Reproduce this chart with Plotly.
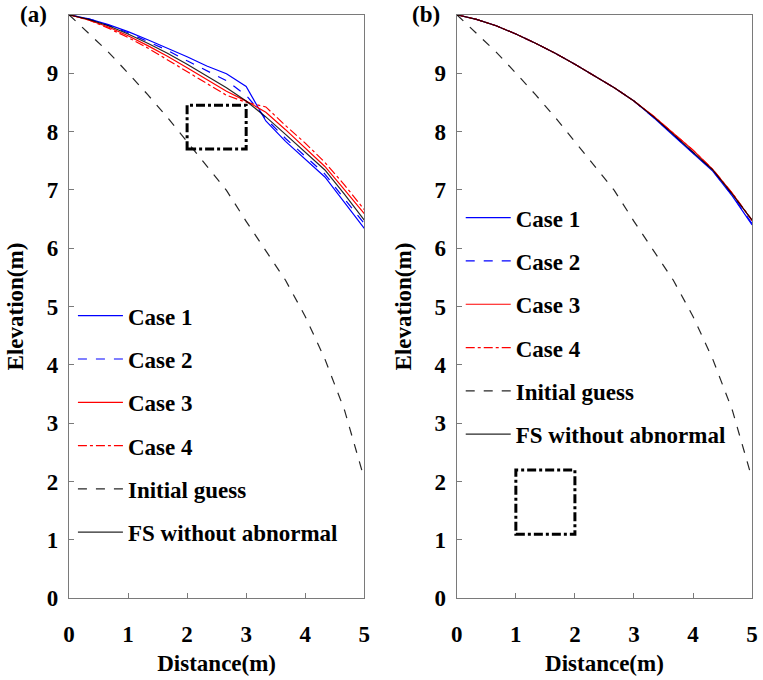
import plotly.graph_objects as go

# Nodes along the free surface (1/3 m spacing)
distance = [0, 1/3, 2/3, 1, 4/3, 5/3, 2, 7/3, 8/3, 3, 10/3, 11/3, 4, 13/3, 14/3, 5]

initial_guess = [10, 9.68, 9.36, 9.00, 8.63, 8.24, 7.83, 7.42, 6.99, 6.46, 5.95, 5.45, 4.83, 4.10, 3.22, 2.05]
fs_without_abnormal = [10, 9.92, 9.81, 9.67, 9.51, 9.34, 9.15, 8.95, 8.75, 8.52, 8.25, 7.95, 7.65, 7.34, 6.92, 6.48]

# (a) abnormal region at 2-3 m
a_case1 = [10, 9.93, 9.83, 9.71, 9.57, 9.43, 9.28, 9.12, 8.99, 8.77, 8.18, 7.83, 7.53, 7.22, 6.78, 6.34]
a_case2 = [10, 9.93, 9.82, 9.69, 9.54, 9.39, 9.21, 9.04, 8.87, 8.62, 8.22, 7.88, 7.58, 7.27, 6.84, 6.42]
a_case3 = [10, 9.91, 9.79, 9.64, 9.47, 9.29, 9.09, 8.89, 8.69, 8.52, 8.33, 8.03, 7.72, 7.40, 7.00, 6.59]
a_case4 = [10, 9.91, 9.77, 9.61, 9.43, 9.23, 9.02, 8.82, 8.62, 8.50, 8.42, 8.10, 7.80, 7.47, 7.08, 6.66]

# (b) abnormal region at 1-2 m, deep below the surface
b_case1 = [10, 9.92, 9.81, 9.67, 9.51, 9.34, 9.15, 8.95, 8.75, 8.52, 8.24, 7.93, 7.62, 7.32, 6.89, 6.40]
b_case2 = [10, 9.92, 9.81, 9.67, 9.51, 9.34, 9.15, 8.95, 8.75, 8.52, 8.24, 7.94, 7.63, 7.33, 6.90, 6.42]
b_case3 = [10, 9.92, 9.81, 9.67, 9.51, 9.34, 9.15, 8.95, 8.75, 8.52, 8.26, 7.97, 7.68, 7.35, 6.94, 6.47]
b_case4 = [10, 9.92, 9.81, 9.67, 9.51, 9.34, 9.15, 8.95, 8.75, 8.52, 8.26, 7.97, 7.68, 7.35, 6.94, 6.48]

# abnormal region outlines: (x0, x1, y0, y1)
box_a = (2, 3, 7.7, 8.45)
box_b = (1, 2, 1.1, 2.2)

x_ticks = [0, 1, 2, 3, 4, 5]
y_ticks = [0, 1, 2, 3, 4, 5, 6, 7, 8, 9]

names = ["Case 1", "Case 2", "Case 3", "Case 4", "Initial guess", "FS without abnormal"]
styles = [
    dict(color="#0000ff", dash="solid"),
    dict(color="#0000ff", dash="dash"),
    dict(color="#ff0000", dash="solid"),
    dict(color="#ff0000", dash="dashdot"),
    dict(color="#000000", dash="dash"),
    dict(color="#000000", dash="solid"),
]

FONT = "Liberation Serif"
FS = 23
fig = go.Figure()

panels = [
    ("x", "y", "legend", [a_case1, a_case2, a_case3, a_case4, initial_guess, fs_without_abnormal]),
    ("x2", "y2", "legend2", [b_case1, b_case2, b_case3, b_case4, initial_guess, fs_without_abnormal]),
]
for xa, ya, leg, series in panels:
    for i, (nm, st, ys) in enumerate(zip(names, styles, series)):
        fig.add_trace(go.Scatter(
            x=distance, y=ys, mode="lines", name=f"<b>{nm}</b>",
            line=dict(color=st["color"], dash=st["dash"], width=1.2),
            opacity=0.85 if st["color"] == "#000000" else 1.0,
            xaxis=xa, yaxis=ya, legend=leg, legendgroup=f"{leg}_{i}",
        ))

for (xr, yr), (x0, x1, y0, y1) in [(("x", "y"), box_a), (("x2", "y2"), box_b)]:
    fig.add_shape(type="rect", xref=xr, yref=yr, x0=x0, x1=x1, y0=y0, y1=y1,
                  line=dict(color="black", width=3, dash="dashdot"))

axis_common = dict(
    showgrid=False, zeroline=False, showline=True, mirror=True,
    linecolor="#7a7a7a", linewidth=1.3,
    ticks="inside", ticklen=5, tickcolor="#7a7a7a", tickwidth=1,
    tickfont=dict(family=FONT, size=FS, color="black", weight="bold"),
)
ax_title_font = dict(family=FONT, size=FS, color="black", weight="bold")

xdom_a = [64/763, 364/763]
xdom_b = [458/763, 758/763]
ydom = [1 - 610/680, 1 - 15/680]

legend_common = dict(
    font=dict(family=FONT, size=FS, color="black"),
    bgcolor="rgba(0,0,0,0)", borderwidth=0, tracegroupgap=10.4,
    xanchor="left", yanchor="top", itemwidth=45,
)

xaxis_extra = dict(range=[0, 5], tickvals=x_ticks, ticklabelstandoff=15)
yaxis_extra = dict(range=[0, 10], tickvals=y_ticks, ticklabelstandoff=5)

fig.update_layout(
    width=763, height=680,
    margin=dict(l=0, r=0, t=0, b=0),
    paper_bgcolor="white", plot_bgcolor="white",
    xaxis=dict(domain=xdom_a, anchor="y",
               title=dict(text="Distance(m)", font=ax_title_font, standoff=8),
               **xaxis_extra, **axis_common),
    yaxis=dict(domain=ydom, anchor="x",
               title=dict(text="Elevation(m)", font=ax_title_font, standoff=16),
               **yaxis_extra, **axis_common),
    xaxis2=dict(domain=xdom_b, anchor="y2",
                title=dict(text="Distance(m)", font=ax_title_font, standoff=8),
                **xaxis_extra, **axis_common),
    yaxis2=dict(domain=ydom, anchor="x2",
                title=dict(text="Elevation(m)", font=ax_title_font, standoff=16),
                **yaxis_extra, **axis_common),
    legend=dict(x=68/763, y=1 - 300/680, **legend_common),
    legend2=dict(x=462/763, y=1 - 200/680, **legend_common),
    showlegend=True,
)

for txt, px in [("(a)", 28), ("(b)", 427)]:
    fig.add_annotation(text=f"<b>{txt}</b>", xref="paper", yref="paper",
                       x=px/763, y=1 - 15/680, xanchor="center", yanchor="middle",
                       showarrow=False, font=dict(family=FONT, size=FS, color="black"))

fig.write_html("out.html")
